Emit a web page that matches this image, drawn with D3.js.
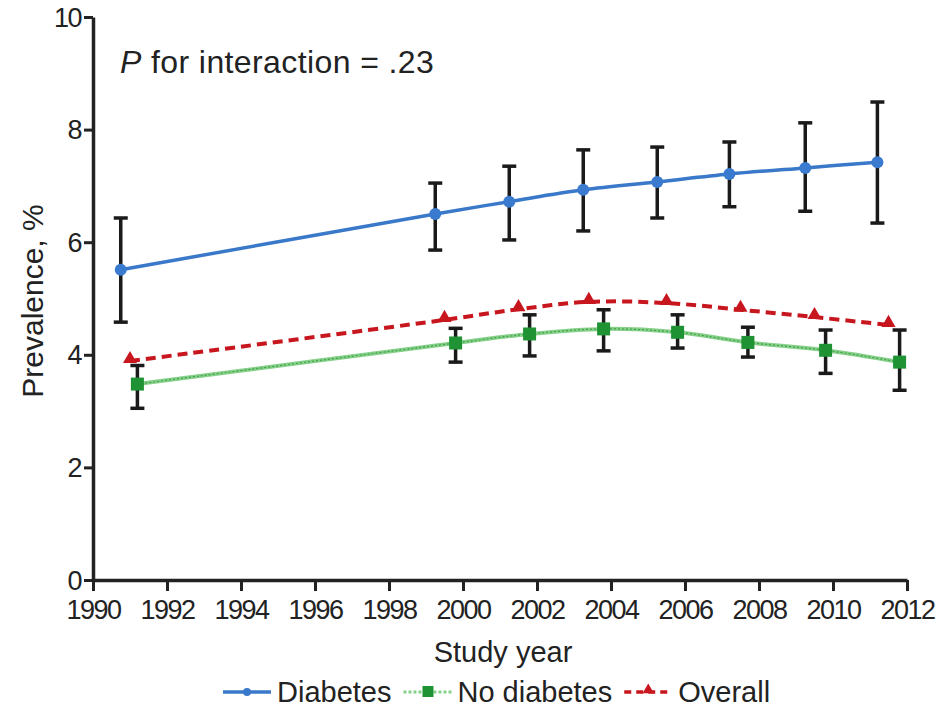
<!DOCTYPE html>
<html>
<head>
<meta charset="utf-8">
<script src="https://cdn.jsdelivr.net/npm/d3@7"></script>
<style>
  body { margin: 0; background: #fff; }
  svg text { font-family: "Liberation Sans", Arial, sans-serif; fill: #222; }
</style>
</head>
<body>
<div id="chart"></div>
<script>
// values
var diabYears = [1990.75, 1999.25, 2001.25, 2003.25, 2005.25, 2007.2, 2009.25, 2011.2];
var diabVals  = [5.51, 6.50, 6.72, 6.93, 7.07, 7.21, 7.32, 7.42];
var diabLo    = [4.58, 5.86, 6.04, 6.20, 6.43, 6.63, 6.55, 6.34];
var diabHi    = [6.43, 7.05, 7.35, 7.64, 7.69, 7.78, 8.12, 8.49];

var noYears = [1991.2, 1999.8, 2001.8, 2003.8, 2005.8, 2007.7, 2009.8, 2011.8];
var noVals  = [3.48, 4.21, 4.37, 4.46, 4.40, 4.22, 4.08, 3.87];
var noLo    = [3.05, 3.87, 3.98, 4.07, 4.12, 3.96, 3.67, 3.37];
var noHi    = [3.81, 4.47, 4.71, 4.80, 4.71, 4.49, 4.44, 4.44];

var allYears = [1991.0, 1999.5, 2001.5, 2003.4, 2005.5, 2007.5, 2009.5, 2011.5];
var allVals  = [3.89, 4.62, 4.81, 4.94, 4.92, 4.80, 4.67, 4.53];

var xTicks = [1990, 1992, 1994, 1996, 1998, 2000, 2002, 2004, 2006, 2008, 2010, 2012];
var yTicks = [0, 2, 4, 6, 8, 10];

var width = 941, height = 715;
var margin = {top: 17, right: 34, bottom: 135, left: 93};
var w = width - margin.left - margin.right;
var h = height - margin.top - margin.bottom;

var svg = d3.select("#chart").append("svg")
  .attr("width", width)
  .attr("height", height);

var g = svg.append("g")
  .attr("transform", "translate(" + margin.left + "," + margin.top + ")");

var x = d3.scaleLinear().domain([1990, 2012]).range([0, w]);
var y = d3.scaleLinear().domain([0, 10]).range([h, 0]);

// axes
var xAxis = g.append("g")
  .attr("transform", "translate(0," + h + ")")
  .call(d3.axisBottom(x).tickValues(xTicks).tickFormat(d3.format("d")).tickSize(11).tickSizeOuter(0));
var yAxis = g.append("g")
  .call(d3.axisLeft(y).tickValues(yTicks).tickSize(9).tickSizeOuter(0));

[xAxis, yAxis].forEach(function(a) {
  a.select(".domain").attr("stroke", "#222").attr("stroke-width", 3.5);
  a.selectAll(".tick line").attr("stroke", "#222").attr("stroke-width", 3);
  a.selectAll(".tick text")
    .attr("fill", "#222")
    .style("font-size", "27px")
    .style("letter-spacing", "-1.5px");
});
xAxis.selectAll(".tick text").attr("y", 20);
yAxis.selectAll(".tick text").attr("x", -12).attr("dy", "0.34em");

// axis titles
g.append("text")
  .attr("x", w / 2 + 3)
  .attr("y", h + 82)
  .attr("text-anchor", "middle")
  .style("font-size", "29px")
  .text("Study year");

g.append("text")
  .attr("transform", "rotate(-90)")
  .attr("x", -284)
  .attr("y", -50)
  .attr("text-anchor", "middle")
  .style("font-size", "30px")
  .text("Prevalence, %");

// annotation
var ann = g.append("text")
  .attr("x", 27)
  .attr("y", 56)
  .style("font-size", "32px")
  .style("letter-spacing", "0.4px");
ann.append("tspan").style("font-style", "italic").text("P");
ann.append("tspan").text(" for interaction = .23");

function pts(xs, vs) {
  return xs.map(function(d, i) { return {x: d, v: vs[i]}; });
}
var diab = pts(diabYears, diabVals);
var nod = pts(noYears, noVals);
var overall = pts(allYears, allVals);

var line = d3.line()
  .x(function(d) { return x(d.x); })
  .y(function(d) { return y(d.v); })
  .curve(d3.curveCatmullRom.alpha(0.5));

// lines
g.append("path").datum(nod)
  .attr("d", line).attr("fill", "none")
  .attr("stroke", "#86d089").attr("stroke-width", 4);
g.append("path").datum(nod)
  .attr("d", line).attr("fill", "none")
  .attr("stroke", "#3fa24a").attr("stroke-width", 1.2)
  .attr("stroke-dasharray", "2,2");

g.append("path").datum(overall)
  .attr("d", line).attr("fill", "none")
  .attr("stroke", "#c8161e").attr("stroke-width", 4)
  .attr("stroke-dasharray", "10,6");

g.append("path").datum(diab)
  .attr("d", line).attr("fill", "none")
  .attr("stroke", "#3a78c9").attr("stroke-width", 3.5);

// error bars
function errorBars(xs, lo, hi) {
  var eb = g.append("g").selectAll("g").data(xs).enter().append("g");
  eb.append("line")
    .attr("x1", function(d) { return x(d); })
    .attr("x2", function(d) { return x(d); })
    .attr("y1", function(d, i) { return y(lo[i]); })
    .attr("y2", function(d, i) { return y(hi[i]); })
    .attr("stroke", "#1a1a1a").attr("stroke-width", 3.5);
  [lo, hi].forEach(function(arr) {
    eb.append("line")
      .attr("x1", function(d) { return x(d) - 7; })
      .attr("x2", function(d) { return x(d) + 7; })
      .attr("y1", function(d, i) { return y(arr[i]); })
      .attr("y2", function(d, i) { return y(arr[i]); })
      .attr("stroke", "#1a1a1a").attr("stroke-width", 3.5);
  });
}
errorBars(diabYears, diabLo, diabHi);
errorBars(noYears, noLo, noHi);

// markers
g.append("g").selectAll("circle").data(diab).enter().append("circle")
  .attr("cx", function(d) { return x(d.x); })
  .attr("cy", function(d) { return y(d.v); })
  .attr("r", 6)
  .attr("fill", "#3a7bd0");

g.append("g").selectAll("rect").data(nod).enter().append("rect")
  .attr("x", function(d) { return x(d.x) - 6.5; })
  .attr("y", function(d) { return y(d.v) - 6.5; })
  .attr("width", 13).attr("height", 13)
  .attr("fill", "#1f9234");

var tri = d3.symbol().type(d3.symbolTriangle).size(85);
g.append("g").selectAll("path").data(overall).enter().append("path")
  .attr("transform", function(d) { return "translate(" + x(d.x) + "," + (y(d.v) - 2) + ")"; })
  .attr("d", tri)
  .attr("fill", "#c8161e");

// legend
var legendItems = [
  {label: "Diabetes", color: "#3a78c9", kind: "circle"},
  {label: "No diabetes", color: "#1f9234", kind: "square"},
  {label: "Overall", color: "#c8161e", kind: "triangle"}
];
var legend = svg.append("g").attr("transform", "translate(223,692)");
var lx = 0;
legendItems.forEach(function(it) {
  var item = legend.append("g").attr("transform", "translate(" + lx + ",0)");
  if (it.kind === "square") {
    item.append("line").attr("x1", 0).attr("x2", 48).attr("y1", 0).attr("y2", 0)
      .attr("stroke", "#86d089").attr("stroke-width", 3).attr("stroke-dasharray", "3,2");
    item.append("rect").attr("x", 19).attr("y", -6).attr("width", 11).attr("height", 11).attr("fill", it.color);
  } else if (it.kind === "triangle") {
    item.append("line").attr("x1", 0).attr("x2", 48).attr("y1", 0).attr("y2", 0)
      .attr("stroke", it.color).attr("stroke-width", 3.5).attr("stroke-dasharray", "7,5");
    item.append("path").attr("transform", "translate(24,-2)").attr("d", d3.symbol().type(d3.symbolTriangle).size(55)).attr("fill", it.color);
  } else {
    item.append("line").attr("x1", 0).attr("x2", 48).attr("y1", 0).attr("y2", 0)
      .attr("stroke", it.color).attr("stroke-width", 3.5);
    item.append("circle").attr("cx", 24).attr("cy", 0).attr("r", 4).attr("fill", it.color);
  }
  var t = item.append("text")
    .attr("x", 54).attr("y", 10)
    .style("font-size", "29px")
    .text(it.label);
  lx += 54 + t.node().getComputedTextLength() + 12;
});
</script>
</body>
</html>
